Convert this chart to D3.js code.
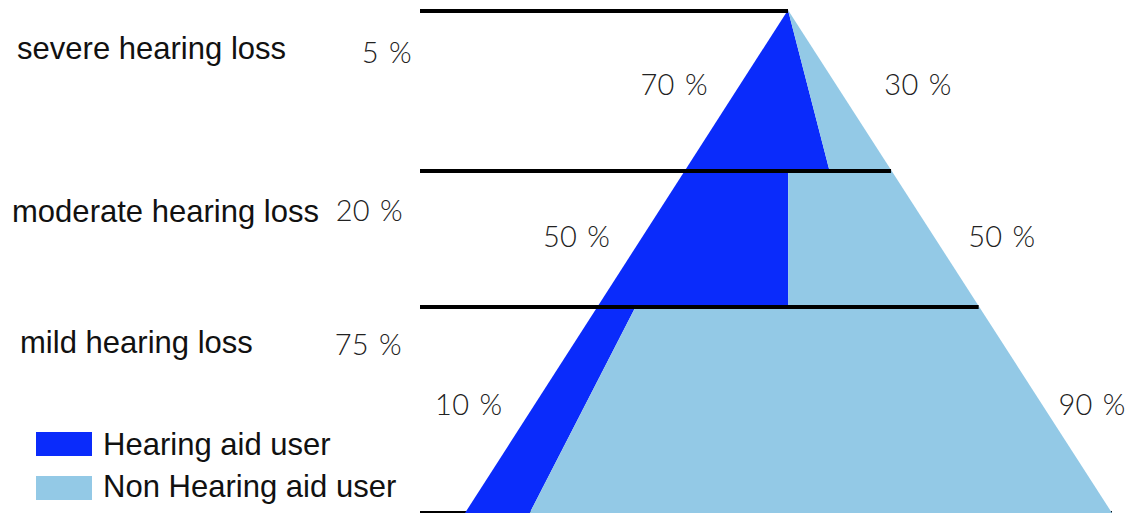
<!DOCTYPE html>
<html><head><meta charset="utf-8">
<script src="https://cdn.jsdelivr.net/npm/d3@7"></script>
<style>html,body{margin:0;padding:0;background:#fff;overflow:hidden}</style>
</head><body>
<svg id="chart" width="1130" height="513"></svg>
<script>
// ---- data ----
const levels = ["severe hearing loss", "moderate hearing loss", "mild hearing loss"];
const shareOfPeople = [5, 20, 75];           // % of people with hearing loss
const aidUserPct = [70, 50, 10];             // % hearing aid users per level
const nonAidUserPct = [30, 50, 90];          // % non hearing aid users per level
const seriesNames = ["Hearing aid user", "Non Hearing aid user"];
const seriesColors = ["#0a2bfb", "#93c9e6"];

// ---- layout ----
const apexY = 10, baseY = 513, centerX = 788;
const bandEdges = [apexY, 170, 306, baseY];   // level boundaries (pixel layout)
const lineStartX = 420;
const catLabelX = [17, 12, 20];
const catLabelY = [59, 222, 353];
const shareLabelX = [412, 403, 402];
const shareLabelY = [63, 221, 355];
const innerLabelY = [95, 247, 415];
const innerRightGap = [48, 34, 16];

const svg = d3.select("#chart");

const halfW = d3.scaleLinear().domain([apexY, baseY]).range([0, 323]);
const halfWR = d3.scaleLinear().domain([apexY, baseY]).range([0, 324]);
const leftX = y => centerX - halfW(y);
const rightX = y => centerX + halfWR(y);
const pct = d3.scaleLinear().domain([0, 100]).range([0, 1]);

// base line behind the pyramid
svg.append("line")
  .attr("x1", lineStartX).attr("x2", rightX(baseY))
  .attr("y1", baseY).attr("y2", baseY)
  .attr("stroke", "#000").attr("stroke-width", 4);

const line = d3.line();
levels.forEach((lv, i) => {
  const y0 = bandEdges[i], y1 = bandEdges[i + 1];
  const l0 = leftX(y0), r0 = rightX(y0), l1 = leftX(y1), r1 = rightX(y1);
  const f = pct(aidUserPct[i]);
  const s0 = l0 + f * (r0 - l0), s1 = l1 + f * (r1 - l1);
  svg.append("path")
    .attr("d", line([[l0, y0], [s0, y0], [s1, y1], [l1, y1]]) + "Z")
    .attr("fill", seriesColors[0]);
  svg.append("path")
    .attr("d", line([[s0, y0], [r0, y0], [r1, y1], [s1, y1]]) + "Z")
    .attr("fill", seriesColors[1]);
});

// boundary lines
bandEdges.slice(0, 3).forEach(y => {
  svg.append("line")
    .attr("x1", lineStartX).attr("x2", rightX(y))
    .attr("y1", y + 1).attr("y2", y + 1)
    .attr("stroke", "#000").attr("stroke-width", 4);
});

const labelFont = "'Liberation Sans', Arial, sans-serif";
const pctFont = "Lato, 'Noto Sans', sans-serif";

function pctText(sel) {
  sel.attr("font-family", pctFont).attr("font-weight", 300).attr("font-size", 29)
    .attr("word-spacing", 2).attr("letter-spacing", 0.3)
    .attr("fill", "#222");
}

// category labels
svg.selectAll("text.cat").data(levels).join("text")
  .attr("class", "cat")
  .attr("transform", (d, i) => `translate(${catLabelX[i]},${catLabelY[i]}) scale(0.97,1)`)
  .attr("font-family", labelFont).attr("font-size", 32)
  .attr("fill", "#111").text(d => d);

// share labels
svg.selectAll("text.share").data(shareOfPeople).join("text")
  .attr("class", "share")
  .attr("x", (d, i) => shareLabelX[i]).attr("y", (d, i) => shareLabelY[i])
  .attr("text-anchor", "end")
  .call(pctText).text(d => d + " %");

// aid user labels (left of pyramid)
svg.selectAll("text.aid").data(aidUserPct).join("text")
  .attr("class", "aid")
  .attr("x", (d, i) => leftX(innerLabelY[i] - 10) - 32)
  .attr("y", (d, i) => innerLabelY[i])
  .attr("text-anchor", "end")
  .call(pctText).text(d => d + " %");

// non aid user labels (right of pyramid)
svg.selectAll("text.non").data(nonAidUserPct).join("text")
  .attr("class", "non")
  .attr("x", (d, i) => rightX(innerLabelY[i] - 10) + innerRightGap[i])
  .attr("y", (d, i) => innerLabelY[i])
  .call(pctText).text(d => d + " %");

// legend
const legend = svg.append("g").attr("transform", "translate(36,432)");
seriesNames.forEach((name, i) => {
  legend.append("rect")
    .attr("x", 0).attr("y", i * 44)
    .attr("width", 56).attr("height", 24)
    .attr("fill", seriesColors[i]);
  legend.append("text")
    .attr("transform", `translate(67,${i * 42 + 23}) scale(0.97,1)`)
    .attr("font-family", labelFont).attr("font-size", 32)
    .attr("fill", "#111").text(name);
});
</script>
</body></html>
